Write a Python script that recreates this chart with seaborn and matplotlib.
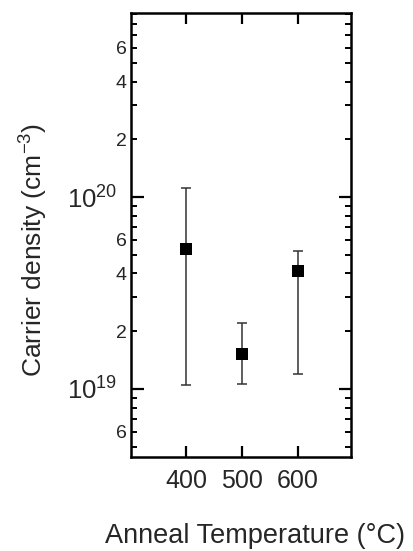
import numpy as np
import pandas as pd
import matplotlib
matplotlib.use('Agg')
import matplotlib.pyplot as plt
import matplotlib.ticker as mticker
import seaborn as sns

temperature = [400, 500, 600]
density = [5.35e19, 1.53e19, 4.13e19]
err_high = [1.12e20, 2.21e19, 5.25e19]
err_low = [1.05e19, 1.06e19, 1.20e19]

df = pd.DataFrame({'Temperature': temperature, 'Density': density})

sns.set_style('ticks')
plt.rcParams['font.family'] = ['Liberation Sans', 'DejaVu Sans']
plt.rcParams['mathtext.default'] = 'regular'

fig = plt.figure(figsize=(4.13, 5.51), dpi=100)
ax = fig.add_axes([131 / 413, 1 - 457 / 551, 220 / 413, 444 / 551])

yerr = [np.array(density) - np.array(err_low), np.array(err_high) - np.array(density)]
ax.errorbar(temperature, density, yerr=yerr, fmt='none', ecolor='#333333',
            elinewidth=1.1, capsize=3.5, capthick=1.1, zorder=2)
sns.scatterplot(data=df, x='Temperature', y='Density', marker='s', s=68,
                color='black', edgecolor='black', linewidth=0, ax=ax, zorder=3)

ax.set_yscale('log')
ax.set_ylim(4.42e18, 9.1e20)
ax.set_xlim(301, 695)

ax.set_xticks([400, 500, 600])
ax.yaxis.set_major_locator(mticker.FixedLocator([1e19, 1e20]))
ax.yaxis.set_major_formatter(mticker.LogFormatterMathtext())
minor = [m * 10.0 ** d for d in (18, 19, 20) for m in range(2, 10)]
ax.yaxis.set_minor_locator(mticker.FixedLocator(minor))


def minor_fmt(v, pos):
    m = v / 10 ** np.floor(np.log10(v) + 1e-9)
    m = int(round(m))
    return str(m) if m in (2, 4, 6) else ''


ax.yaxis.set_minor_formatter(mticker.FuncFormatter(minor_fmt))
ax.xaxis.set_minor_locator(mticker.NullLocator())

ax.tick_params(which='both', direction='in', top=True, right=True, color='black')
ax.tick_params(axis='x', which='major', length=8, width=1.6, labelsize=18, pad=9)
ax.tick_params(axis='y', which='major', length=9, width=1.6, labelsize=18.5, pad=10)
ax.tick_params(axis='y', which='minor', length=4.5, width=1.4, labelsize=14, pad=3)

for s in ax.spines.values():
    s.set_linewidth(1.8)
    s.set_color('black')

ax.set_xlabel('Anneal Temperature (°C)', fontsize=19.5)
ax.xaxis.set_label_coords(0.564, -0.148)
ax.set_ylabel('Carrier density (cm$^{-3}$)', fontsize=19)
ax.yaxis.set_label_coords(-0.37, 0.466)

fig.savefig('out.png', dpi=100)
